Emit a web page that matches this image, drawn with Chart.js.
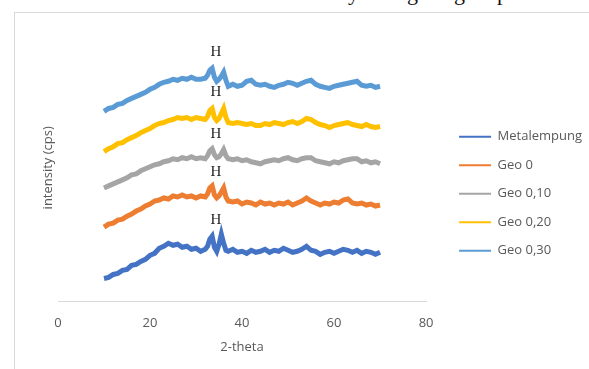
<!DOCTYPE html>
<html>
<head>
<meta charset="utf-8">
<script src="https://cdn.jsdelivr.net/npm/chart.js@4/dist/chart.umd.min.js"></script>
<style>
  html, body { margin: 0; padding: 0; background: #fff; overflow: hidden; }
  #page { position: relative; width: 589px; height: 369px; overflow: hidden; }
  #frame { position: absolute; left: 14px; top: 12px; width: 700px; height: 500px; border: 1px solid #d9d9d9; }
  #above { position: absolute; top: -18px; left: 0; font: 22px "Liberation Serif", serif; line-height: 22px; color: #111; }
  #above span { position: absolute; }
  canvas { position: absolute; left: 0; top: 0; }
</style>
</head>
<body>
<div id="page">
  <div id="above"><span style="left:348px">y</span><span style="left:407px">g</span><span style="left:454px">g</span><span style="left:497px">p</span></div>
  <div id="frame"></div>
  <canvas id="xrd" width="600" height="369"></canvas>
</div>
<script>
// 2-theta positions
const twoTheta = [10,11,12,13,14,15,16,17,18,19,20,21,22,23,24,25,26,27,28,29,30,31,32,
  32.5,33,33.5,34,34.5,35,35.5,36,36.5,37,
  38,39,40,41,42,43,44,45,46,47,48,49,50,51,52,53,54,55,56,57,58,59,60,61,62,63,64,65,66,67,68,69,70];

// intensities (offset per sample as in the figure)
const metalempung = [23,24,27,28,31,32,36,37,40,42,46,48,53,55,58,56,57,54,55,52,53,50,52,
  55,62,65,54,50,57,67,58,51,50,
  52,49,50,48,51,49,50,52,49,51,50,53,51,49,50,52,55,51,50,47,49,50,48,50,52,51,49,51,48,50,49,47,49];
const geo0 = [74,77,78,81,82,85,87,90,92,95,97,100,101,103,102,105,104,106,104,105,103,105,104,
  107,113,115,106,103,105,109,113,104,100,
  99,100,97,99,98,96,99,97,98,96,98,97,99,96,98,100,103,100,98,96,98,97,99,98,101,102,98,97,98,96,97,95,96];
const geo010 = [113,115,117,119,121,123,126,127,130,132,134,136,137,139,140,142,141,143,142,144,142,143,142,
  145,150,152,146,143,144,147,151,145,142,
  141,142,140,141,139,138,137,139,140,141,140,142,143,141,140,142,143,143,140,139,138,137,139,138,140,141,142,142,139,140,138,139,137];
const geo020 = [149,152,154,157,158,161,163,165,168,170,172,175,177,178,180,181,183,182,183,181,183,182,181,
  184,190,192,183,180,182,187,192,183,178,
  177,178,177,176,177,175,175,177,176,178,177,176,178,179,177,179,182,181,178,176,175,173,175,176,177,178,176,175,174,176,174,173,174];
const geo030 = [189,192,193,196,197,200,202,204,206,208,211,213,216,218,219,221,220,222,221,223,221,221,222,
  225,230,232,223,219,221,224,228,220,214,
  216,214,215,219,220,216,215,216,214,213,215,216,218,217,215,217,219,220,216,214,213,212,214,215,216,217,218,219,215,214,215,213,214];

const seriesNames = ['Metalempung', 'Geo 0', 'Geo 0,10', 'Geo 0,20', 'Geo 0,30'];
const seriesColors = ['#4472C4', '#ED7D31', '#A5A5A5', '#FFC000', '#5B9BD5'];
const seriesValues = [metalempung, geo0, geo010, geo020, geo030];

// "H" peak markers
const hLabelX = 34.3;
const hLabelY = [81, 129, 167, 208, 248];

const xTicks = [0, 20, 40, 60, 80];

const datasets = seriesValues.map((vals, i) => ({
  label: seriesNames[i],
  data: vals.map((v, j) => ({x: twoTheta[j], y: v})),
  borderColor: seriesColors[i],
  backgroundColor: seriesColors[i],
  borderWidth: 5,
  pointRadius: 0,
  tension: 0
}));

const hMarks = {
  id: 'hMarks',
  afterDatasetsDraw(chart) {
    const {ctx, scales} = chart;
    ctx.save();
    ctx.font = '15px "Liberation Serif", serif';
    ctx.fillStyle = '#262626';
    ctx.textAlign = 'center';
    ctx.textBaseline = 'middle';
    hLabelY.forEach(y => ctx.fillText('H', scales.x.getPixelForValue(hLabelX), scales.y.getPixelForValue(y)));
    ctx.restore();
  }
};

const grey = '#595959';
const font = {family: '"Open Sans", sans-serif', size: 13};

new Chart(document.getElementById('xrd'), {
  type: 'line',
  data: {datasets},
  plugins: [hMarks],
  options: {
    responsive: false,
    animation: false,
    layout: {padding: {left: 30, top: 34, bottom: 15.6, right: 8}},
    scales: {
      x: {
        type: 'linear', min: 0, max: 80,
        afterBuildTicks: s => { s.ticks = xTicks.map(v => ({value: v})); },
        grid: {display: false, drawTicks: false},
        border: {color: '#d9d9d9', width: 1},
        ticks: {color: grey, font, padding: 14.2, maxRotation: 0},
        title: {display: true, text: '2-theta', color: grey, font, padding: {top: -6.4, bottom: -1.4}}
      },
      y: {
        min: 0, max: 266,
        grid: {display: false, drawTicks: false},
        border: {display: false},
        ticks: {display: false},
        title: {display: true, text: 'intensity (cps)', color: grey, font, padding: {top: 10.8, bottom: 1.6}}
      },
      yR: {
        position: 'right', display: true,
        grid: {display: false, drawTicks: false},
        border: {display: false},
        ticks: {display: false},
        afterFit: s => { s.width = 17.5; }
      }
    },
    plugins: {
      tooltip: {enabled: false},
      legend: {
        position: 'right',
        maxWidth: 220,
        labels: {
          color: grey, font, boxWidth: 32, boxHeight: 2, padding: 15.5,
          generateLabels: chart => Chart.defaults.plugins.legend.labels.generateLabels(chart)
            .map(l => Object.assign(l, {lineWidth: 0, fillStyle: l.strokeStyle}))
        }
      }
    }
  }
});
</script>
</body>
</html>
